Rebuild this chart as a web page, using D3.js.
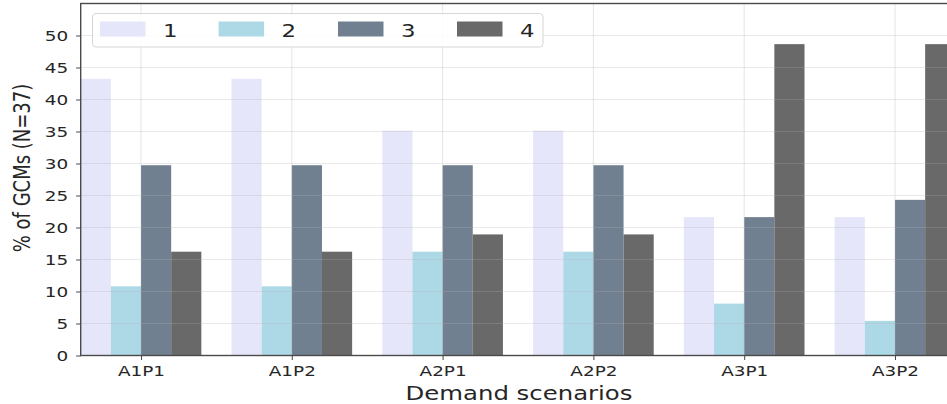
<!DOCTYPE html>
<html>
<head>
<meta charset="utf-8">
<script src="https://cdn.jsdelivr.net/npm/d3@7"></script>
<style>
  html, body { margin: 0; padding: 0; background: #fff; }
  svg { display: block; }
  text { font-family: "DejaVu Sans", sans-serif; fill: #262626; }
</style>
</head>
<body>
<svg id="chart" width="947" height="404"></svg>
<script>
// Demand scenarios on the x axis
const scenarios = ["A1P1", "A1P2", "A2P1", "A2P2", "A3P1", "A3P2"];
// Legend / series names
const seriesNames = ["1", "2", "3", "4"];
// Share of GCMs (out of 37) falling in each group, per scenario
const series1 = [43.24, 43.24, 35.14, 35.14, 21.62, 21.62];
const series2 = [10.81, 10.81, 16.22, 16.22, 8.11, 5.41];
const series3 = [29.73, 29.73, 29.73, 29.73, 21.62, 24.32];
const series4 = [16.22, 16.22, 18.92, 18.92, 48.65, 48.65];
const yTicks = [0, 5, 10, 15, 20, 25, 30, 35, 40, 45, 50];
const seriesColors = ["#e6e6fa", "#add8e6", "#708090", "#696969"];

const allSeries = [series1, series2, series3, series4];
const barW = 0.2;      // bar width in category units
const sx = 1.27;       // horizontal stretch applied to text glyphs

const svg = d3.select("#chart");
const x = d3.scaleLinear().domain([-0.4, 5.4]).range([80.7, 955.3]);
const y = d3.scaleLinear().domain([0, 55]).range([355.5, 3.5]);

// Bars
allSeries.forEach((vals, j) => {
  svg.append("g").selectAll("rect")
    .data(vals)
    .join("rect")
    .attr("x", (d, i) => x(i + (j - 2) * barW))
    .attr("width", x(barW) - x(0))
    .attr("y", d => y(d))
    .attr("height", d => y(0) - y(d))
    .attr("fill", seriesColors[j]);
});

// Grid on top of bars (faint)
const grid = svg.append("g").attr("stroke", "#b0b0b0").attr("stroke-opacity", 0.28).attr("stroke-width", 1.2);
grid.selectAll("line.h").data(yTicks.slice(1)).join("line").attr("class", "h")
  .attr("x1", x(-0.4)).attr("x2", x(5.4)).attr("y1", d => y(d)).attr("y2", d => y(d));
grid.selectAll("line.v").data(scenarios).join("line").attr("class", "v")
  .attr("x1", (d, i) => x(i)).attr("x2", (d, i) => x(i)).attr("y1", y(0)).attr("y2", y(55));

// Axes
const yAxis = d3.axisLeft(y).tickValues(yTicks).tickSize(4.5).tickPadding(0).tickSizeOuter(0);
const gy = svg.append("g").attr("transform", `translate(${x(-0.4)},0)`).call(yAxis);
gy.select(".domain").remove();
gy.selectAll(".tick line").attr("stroke", "#444").attr("stroke-width", 1);
gy.selectAll(".tick text")
  .attr("x", null).attr("dy", null)
  .attr("transform", `translate(-12.5,5.2) scale(${sx},1)`)
  .style("font-size", "14.5px").style("font-family", "DejaVu Sans").attr("fill", "#262626");

const xAxis = d3.axisBottom(x).tickValues(d3.range(scenarios.length))
  .tickFormat(i => scenarios[i]).tickSize(4.5).tickPadding(0).tickSizeOuter(0);
const gx = svg.append("g").attr("transform", `translate(0,${y(0)})`).call(xAxis);
gx.select(".domain").remove();
gx.selectAll(".tick line").attr("stroke", "#444").attr("stroke-width", 1);
gx.selectAll(".tick text")
  .attr("y", null).attr("dy", null)
  .attr("transform", `translate(0,20.5) scale(${sx},1)`)
  .style("font-size", "14.5px").style("font-family", "DejaVu Sans").attr("fill", "#262626");

// Frame
svg.append("rect")
  .attr("x", x(-0.4)).attr("y", y(55))
  .attr("width", x(5.4) - x(-0.4)).attr("height", y(0) - y(55))
  .attr("fill", "none").attr("stroke", "#4a4a4a").attr("stroke-width", 1.4);

// Axis titles
svg.append("text")
  .attr("transform", `translate(519,399.5) scale(1.25,1)`)
  .attr("text-anchor", "middle")
  .style("font-size", "19.5px")
  .text("Demand scenarios");

svg.append("text")
  .attr("transform", `translate(30,168) scale(1.25,1) rotate(-90)`)
  .attr("text-anchor", "middle")
  .style("font-size", "18px")
  .text("% of GCMs (N=37)");

// Legend
const leg = svg.append("g");
leg.append("rect")
  .attr("x", 92.5).attr("y", 13.5).attr("width", 450.5).attr("height", 33.5)
  .attr("rx", 3.5).attr("fill", "#fff").attr("fill-opacity", 0.85)
  .attr("stroke", "#d6d6d6").attr("stroke-width", 1);
const patchX = [100, 218.6, 338, 457];
seriesNames.forEach((name, j) => {
  leg.append("rect")
    .attr("x", patchX[j]).attr("y", 21.5).attr("width", 45.5).attr("height", 15)
    .attr("fill", seriesColors[j]);
  leg.append("text")
    .attr("transform", `translate(${patchX[j] + 63},36.5) scale(${sx},1)`)
    .style("font-size", "18px")
    .text(name);
});
</script>
</body>
</html>
